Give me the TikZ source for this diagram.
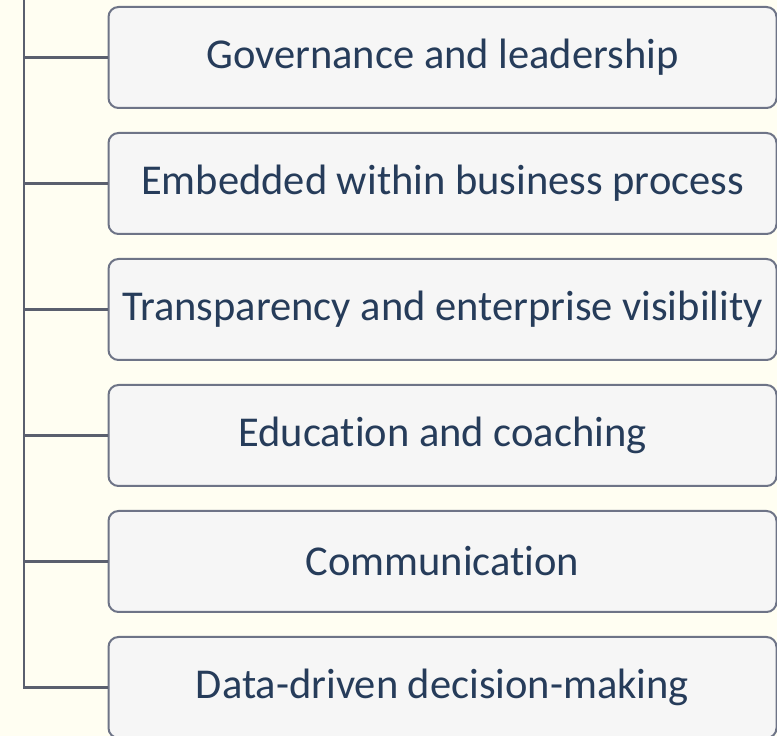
\documentclass[tikz,border=0pt]{standalone}
\usepackage{fontspec}
\setmainfont{Carlito}[Ligatures=NoCommon]
\usepackage{tikz}
\usetikzlibrary{positioning}
\definecolor{bgivory}{RGB}{255,254,242}
\definecolor{boxfill}{RGB}{246,246,246}
\definecolor{boxline}{RGB}{110,116,135}
\definecolor{spineline}{RGB}{90,95,110}
\definecolor{textnavy}{RGB}{38,60,90}

\tikzset{
  item/.style={draw=boxline, fill=boxfill, line width=2pt, rounded corners=10pt,
    minimum width=668pt, minimum height=101pt, inner sep=0pt,
    text=textnavy, font=\fontsize{42.5}{42.5}\selectfont},
  branch/.style={draw=spineline, line width=2.2pt}
}

\begin{document}
\begin{tikzpicture}[x=1pt, y=1pt]
% page and background
\fill[bgivory] (0,0) rectangle (777,736);
\useasboundingbox (0,0) rectangle (777,736);

% the six boxes, top to bottom
\foreach \name/\txt [count=\i] in {gov/Governance and leadership,
    embed/Embedded within business process,
    transp/Transparency and enterprise visibility,
    edu/Education and coaching,
    comm/Communication,
    data/Data-driven decision-making}
    \node[item] (\name) at (442.5,{736-57.5-126*(\i-1)}) {\txt};

% spine on the left
\coordinate (top) at (24,736);
\draw[branch] (top) |- (data.west);
\foreach \name in {gov,embed,transp,edu,comm}
    \draw[branch] (top |- \name.west) -- (\name.west);
\end{tikzpicture}
\end{document}
